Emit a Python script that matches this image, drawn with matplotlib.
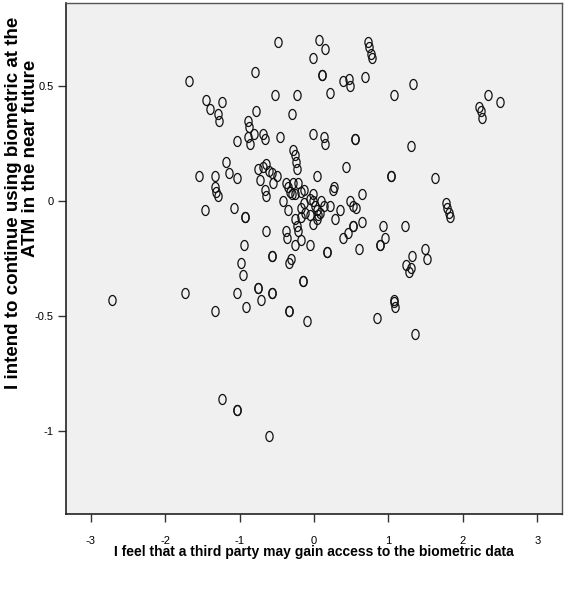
import numpy as np
import matplotlib
matplotlib.use('Agg')
import matplotlib.pyplot as plt
from matplotlib.path import Path

# scores for each respondent (x = third party access, y = intention to use)
third_party = [
    -0.48, 0.07, 0.15, -0.01, 0.73, 0.74, 0.76, 0.78, 0.11, 0.11,
    0.21, 0.39, 0.47, 0.48, 0.69, 1.07, 1.33, -0.79, -1.68, -1.45,
    -1.39, -1.24, -1.29, -1.27, -0.53, -0.23, -0.29, -0.78, -0.88, -0.87,
    -0.88, -0.86, -0.81, -1.03, -0.68, -0.66, -0.46, -0.01, 0.13, 0.15,
    0.55, 0.55, 1.30, 2.33, 2.50, 2.22, 2.24, 2.25,
    -0.28, -0.26, -0.24, -0.23, 0.43, 0.04, 1.04, 1.04, 1.62, 0.65,
    0.48, 0.52, 0.56, 1.77, 1.79, 1.81, 1.82, 0.64, 0.52, 0.52,
    0.92, 0.95, 0.89, 0.89, 1.22, 0.61, 1.49, 1.52, 1.31, 1.24,
    1.27, 1.30, -1.18, -1.55, -1.33, -1.14, -1.03, -1.33, -1.31, -1.29,
    -1.46, -1.07, -0.92, -0.92, -0.75, -0.69, -0.65, -0.61, -0.72, -0.57,
    -0.50, -0.55, -0.66, -0.64, -0.37, -0.35, -0.32, -0.28, -0.21, -0.30,
    -0.26, -0.18, -0.14, -0.42, -0.35, -0.05, -0.01, -0.02, 0.01, -0.14,
    -0.17, -0.12, -0.17, 0.10, 0.13, 0.08, 0.04, 0.06, 0.04, 0.22,
    0.26, 0.27, 0.35, 0.28, -0.26, -0.23, -0.21, -0.01, -0.06, -0.65,
    -0.38, -0.36, -0.26, -0.17, -0.06, 0.45, 0.39, -0.94,
    -0.98, -0.57, -0.57, -0.33, -0.31, -0.95, -0.15, -0.15, -0.75, -0.75,
    -0.56, -0.56, -0.71, -1.03, -0.91, -1.73, -1.33, -0.33, -0.33, -0.10,
    -1.23, -1.03, -1.03, -0.61, -2.71, 0.17, 0.17, 0.85, 1.08, 1.09,
    1.08, 1.36,
]
intention = [
    0.69, 0.70, 0.66, 0.62, 0.69, 0.67, 0.64, 0.62, 0.55, 0.55,
    0.47, 0.52, 0.53, 0.50, 0.54, 0.46, 0.51, 0.56, 0.52, 0.44,
    0.40, 0.43, 0.38, 0.35, 0.46, 0.46, 0.38, 0.39, 0.35, 0.32,
    0.28, 0.25, 0.29, 0.26, 0.29, 0.27, 0.28, 0.29, 0.28, 0.25,
    0.27, 0.27, 0.24, 0.46, 0.43, 0.41, 0.39, 0.36,
    0.22, 0.20, 0.17, 0.14, 0.15, 0.11, 0.11, 0.11, 0.10, 0.03,
    0.00, -0.02, -0.03, -0.01, -0.03, -0.05, -0.07, -0.09, -0.11, -0.11,
    -0.11, -0.16, -0.19, -0.19, -0.11, -0.21, -0.21, -0.25, -0.24, -0.28,
    -0.31, -0.29, 0.17, 0.11, 0.11, 0.12, 0.10, 0.06, 0.04, 0.02,
    -0.04, -0.03, -0.07, -0.07, 0.14, 0.15, 0.16, 0.13, 0.09, 0.12,
    0.11, 0.08, 0.05, 0.02, 0.08, 0.06, 0.04, 0.08, 0.08, 0.03,
    0.03, 0.04, 0.05, 0.00, -0.04, 0.01, 0.03, 0.00, -0.02, -0.01,
    -0.03, -0.05, -0.07, 0.00, -0.02, -0.05, -0.04, -0.06, -0.08, -0.02,
    0.05, 0.06, -0.04, -0.08, -0.08, -0.11, -0.13, -0.10, -0.06, -0.13,
    -0.13, -0.16, -0.19, -0.17, -0.19, -0.14, -0.16, -0.19,
    -0.27, -0.24, -0.24, -0.27, -0.25, -0.32, -0.35, -0.35, -0.38, -0.38,
    -0.40, -0.40, -0.43, -0.40, -0.46, -0.40, -0.48, -0.48, -0.48, -0.52,
    -0.86, -0.91, -0.91, -1.02, -0.43, -0.22, -0.22, -0.51, -0.43, -0.46,
    -0.44, -0.58,
]

x_ticks = [-3, -2, -1, 0, 1, 2, 3]
y_ticks = [0.5, 0, -0.5, -1]
y_tick_labels = ['0.5', '0', '-0.5', '-1']

fonts = ['Liberation Sans', 'DejaVu Sans']

# open ellipse marker, a bit taller than wide
t = np.linspace(0, 2 * np.pi, 64)
ellipse = Path(np.column_stack([0.36 * np.cos(t), 0.5 * np.sin(t)]))

fig = plt.figure(figsize=(5.72, 5.90), dpi=100)
ax = fig.add_axes([66 / 572, 1 - 514 / 590, 496 / 572, 511 / 590])
ax.set_facecolor('#f0f0f0')

ax.plot(third_party, intention, linestyle='none', marker=ellipse,
        markersize=7.2, markerfacecolor='none', markeredgecolor='#111111',
        markeredgewidth=0.9)

ax.set_xlim(-3.33, 3.33)
ax.set_ylim(-1.361, 0.861)

ax.set_xticks(x_ticks)
ax.set_xticklabels([str(v) for v in x_ticks], family=fonts, fontsize=8)
ax.set_yticks(y_ticks)
ax.set_yticklabels(y_tick_labels, family=fonts, fontsize=8)
ax.tick_params(direction='out', length=6, width=1, color='#333333')
ax.tick_params(axis='x', pad=10)
ax.tick_params(axis='y', pad=3)

for side in ['left', 'bottom']:
    ax.spines[side].set_color('#222222')
    ax.spines[side].set_linewidth(1.2)
for side in ['top', 'right']:
    ax.spines[side].set_color('#555555')
    ax.spines[side].set_linewidth(1.0)

fig.text(314 / 572, 1 - 552 / 590,
         'I feel that a third party may gain access to the biometric data',
         ha='center', va='center', fontsize=10, fontweight='bold', family=fonts)

# the y title is set as two lines by hand
fig.text(14 / 572, 1 - 203 / 590,
         'I intend to continue using biometric at the',
         ha='center', va='center', rotation=90, fontsize=13.5,
         fontweight='bold', family=fonts)
fig.text(31 / 572, 1 - 158 / 590, 'ATM in the near future',
         ha='center', va='center', rotation=90, fontsize=13.5,
         fontweight='bold', family=fonts)

fig.savefig('out.png', dpi=100)
